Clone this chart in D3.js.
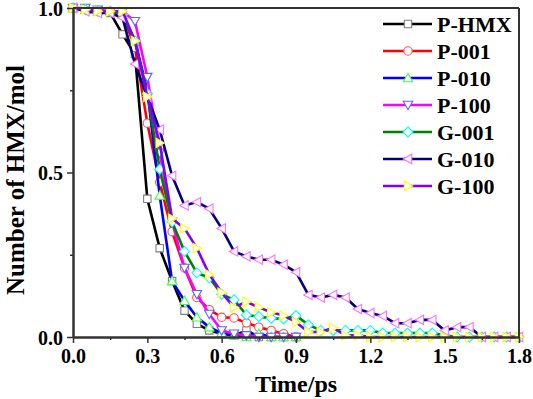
<!DOCTYPE html>
<html><head><meta charset="utf-8">
<script src="https://cdnjs.cloudflare.com/ajax/libs/d3/7.8.5/d3.min.js"></script>
<style>body{margin:0;background:#fff}svg{display:block}</style>
</head><body>
<script>
const times = [0,0.05,0.1,0.15,0.2,0.25,0.3,0.35,0.4,0.45,0.5,0.55,0.6,0.65,0.7,0.75,0.8,0.85,0.9,0.95,1.0,1.05,1.1,1.15,1.2,1.25,1.3,1.35,1.4,1.45,1.5,1.55,1.6,1.65,1.7,1.75,1.8];
const seriesNames = ["P-HMX","P-001","P-010","P-100","G-001","G-010","G-100"];
const pHMX = [1,0.995,0.99,0.985,0.92,0.86,0.42,0.27,0.17,0.08,0.04,0.02,0.01,0.005,0.02,0,0,0,0];
const p001 = [1,0.995,0.99,0.99,0.98,0.88,0.65,0.47,0.32,0.21,0.12,0.083,0.06,0.058,0.043,0.03,0.02,0.01,0];
const p010 = [1,0.995,0.99,0.99,0.98,0.90,0.75,0.43,0.17,0.11,0.06,0.03,0.012,0.005,0,0.01,0,0,0];
const p100 = [1,1,0.995,0.99,0.99,0.96,0.79,0.56,0.35,0.21,0.13,0.07,0.02,0.01,0.005,0,0,0,0];
const g001 = [1,0.995,0.99,0.99,0.98,0.90,0.74,0.51,0.35,0.26,0.195,0.18,0.13,0.113,0.067,0.062,0.057,0.055,0.065,0.037,0.02,0.02,0.02,0.02,0.02,0.012,0.012,0.012,0.012,0.012,0.005,0,0,0,0,0,0];
const g010 = [1,0.99,0.985,0.985,0.97,0.83,0.73,0.63,0.49,0.40,0.41,0.39,0.33,0.26,0.245,0.235,0.235,0.22,0.197,0.128,0.12,0.128,0.12,0.085,0.073,0.064,0.042,0.042,0.052,0.052,0.02,0.03,0.03,0,0,0,0];
const g100 = [1,0.995,0.99,0.99,0.99,0.90,0.73,0.59,0.36,0.33,0.27,0.19,0.135,0.09,0.107,0.09,0.075,0.065,0.045,0.015,0.015,0.028,0.005,0.005,0,0,0,0,0,0,0,0,0,0,0,0,0];
const xTicks = [0,0.3,0.6,0.9,1.2,1.5,1.8];
const yTicks = [0,0.5,1.0];

const lineColors = ["#000000","#ff0000","#0000ff","#ff00ff","#008000","#000080","#8000ff"];
const markColors = ["#808080","#ff5050","#40ff40","#6060ff","#00ffff","#ff70ff","#ffff00"];
const shapes = ["square","circle","up","down","diamond","left","right"];
const allVals = [pHMX,p001,p010,p100,g001,g010,g100];

const W=533,H=399;
const svg=d3.select("body").append("svg").attr("width",W).attr("height",H);
const x=d3.scaleLinear().domain([0,1.8]).range([73,519]);
const y=d3.scaleLinear().domain([0,1]).range([337,8]);

function markerPath(shape){
  const s=4.2;
  switch(shape){
    case "square": return `M${-s+0.5},${-s+0.5}h${2*s-1}v${2*s-1}h${-(2*s-1)}Z`;
    case "circle": return d3.symbol(d3.symbolCircle,55)();
    case "up": return `M0,${-s-0.5}L${s+0.5},${s-0.5}L${-s-0.5},${s-0.5}Z`;
    case "down": return `M0,${s+0.5}L${s+0.5},${-s+0.5}L${-s-0.5},${-s+0.5}Z`;
    case "diamond": return `M0,${-s-0.8}L${s+0.8},0L0,${s+0.8}L${-s-0.8},0Z`;
    case "left": return `M${-s-0.5},0L${s-0.5},${-s-0.5}L${s-0.5},${s+0.5}Z`;
    case "right": return `M${s+0.5},0L${-s+0.5},${-s-0.5}L${-s+0.5},${s+0.5}Z`;
  }
}

const font="'Liberation Serif','Times New Roman',serif";
const plot=svg.append("g");
const line=d3.line().x(d=>x(d[0])).y(d=>y(d[1]));
allVals.forEach((vals,i)=>{
  const pts=vals.map((v,j)=>[times[j],v]);
  const g=plot.append("g");
  g.append("path").attr("d",line(pts)).attr("fill","none").attr("stroke",lineColors[i]).attr("stroke-width",2.6).attr("stroke-linejoin","round");
  g.selectAll("path.m").data(pts).enter().append("path").attr("class","m")
    .attr("transform",d=>`translate(${x(d[0])},${y(d[1])})`)
    .attr("d",markerPath(shapes[i])).attr("fill","#fff").attr("stroke",markColors[i]).attr("stroke-width",1.1);
});

// frame
const ax="#333";
svg.append("line").attr("x1",73).attr("x2",519).attr("y1",y(1)).attr("y2",y(1)).attr("stroke",ax).attr("stroke-width",2);
svg.append("line").attr("x1",519).attr("x2",519).attr("y1",y(1)).attr("y2",337).attr("stroke",ax).attr("stroke-width",2);

const xAxis=svg.append("g").attr("transform","translate(0,337)")
  .call(d3.axisBottom(x).tickValues(xTicks).tickFormat(d3.format(".1f")).tickSize(6).tickSizeOuter(0));
const xMinor=svg.append("g").attr("transform","translate(0,337)")
  .call(d3.axisBottom(x).tickValues([0.15,0.45,0.75,1.05,1.35,1.65]).tickFormat("").tickSize(3).tickSizeOuter(0));
const yAxis=svg.append("g").attr("transform","translate(73,0)")
  .call(d3.axisLeft(y).tickValues(yTicks).tickFormat(d3.format(".1f")).tickSize(6).tickSizeOuter(0));
const yMinor=svg.append("g").attr("transform","translate(73,0)")
  .call(d3.axisLeft(y).tickValues([0.25,0.75]).tickFormat("").tickSize(3).tickSizeOuter(0));
[xAxis,xMinor,yAxis,yMinor].forEach(a=>{
  a.select(".domain").attr("stroke",ax).attr("stroke-width",2);
  a.selectAll(".tick line").attr("stroke",ax).attr("stroke-width",1.5);
  a.selectAll("text").attr("font-family",font).attr("font-weight","bold").attr("font-size",20).attr("fill","#000");
});
xAxis.selectAll("text").attr("dy","0.85em");
yAxis.selectAll("text").attr("dx","-0.05em").attr("dy","0.36em");

svg.append("text").attr("x",296).attr("y",392).attr("text-anchor","middle")
  .attr("font-family",font).attr("font-weight","bold").attr("font-size",24).text("Time/ps");
svg.append("text").attr("transform","translate(24,180) rotate(-90)").attr("text-anchor","middle")
  .attr("font-family",font).attr("font-weight","bold").attr("font-size",25).text("Number of HMX/mol");

// legend
const leg=svg.append("g");
seriesNames.forEach((n,i)=>{
  const yy=24+27*i;
  leg.append("line").attr("x1",383).attr("x2",432).attr("y1",yy).attr("y2",yy).attr("stroke",lineColors[i]).attr("stroke-width",2.6);
  leg.append("path").attr("transform",`translate(408,${yy})`).attr("d",markerPath(shapes[i])).attr("fill","#fff").attr("stroke",markColors[i]).attr("stroke-width",1.1);
  leg.append("text").attr("x",437).attr("y",yy).attr("dy","0.35em").attr("font-family",font).attr("font-weight","bold").attr("font-size",22).text(n);
});
</script>
</body></html>
